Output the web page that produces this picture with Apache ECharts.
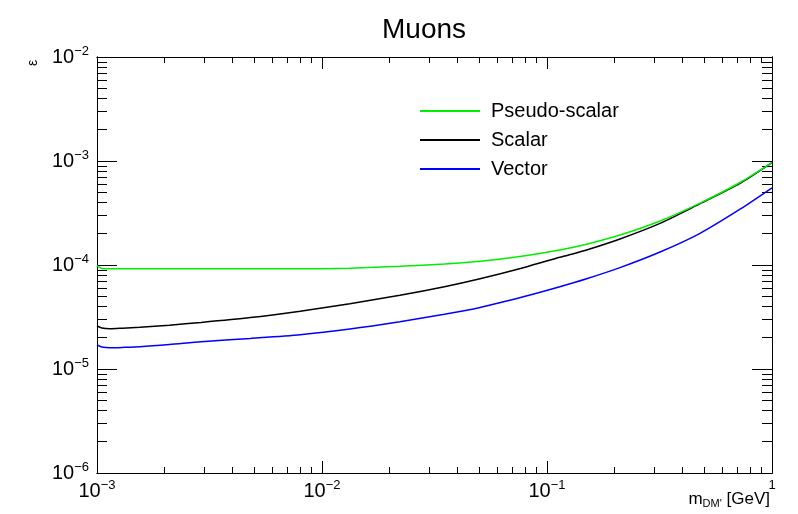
<!DOCTYPE html>
<html>
<head>
<meta charset="utf-8">
<script src="https://cdn.jsdelivr.net/npm/echarts@6/dist/echarts.min.js"></script>
<style>html,body{margin:0;padding:0;background:#fff}#c{width:798px;height:514px}</style>
</head>
<body>
<div id="c"></div>
<script>
var massGeV = [0.001, 0.00105, 0.00114, 0.0013, 0.00155, 0.0021, 0.0029, 0.0048, 0.008, 0.0133, 0.0222, 0.035, 0.0504, 0.08, 0.114, 0.15, 0.211, 0.318, 0.479, 0.721, 1.0];
var pseudoScalar = [9.85e-5, 9.25e-5, 9.18e-5, 9.18e-5, 9.18e-5, 9.18e-5, 9.18e-5, 9.18e-5, 9.18e-5, 9.33e-5, 9.73e-5, 1.023e-4, 1.084e-4, 1.23e-4, 1.396e-4, 1.585e-4, 1.94e-4, 2.65e-4, 3.94e-4, 6.21e-4, 9.64e-4];
var scalar = [2.59e-5, 2.48e-5, 2.44e-5, 2.47e-5, 2.52e-5, 2.64e-5, 2.80e-5, 3.12e-5, 3.60e-5, 4.24e-5, 5.12e-5, 6.19e-5, 7.38e-5, 9.53e-5, 1.186e-4, 1.396e-4, 1.778e-4, 2.51e-4, 3.89e-4, 6.10e-4, 9.64e-4];
var vector = [1.70e-5, 1.63e-5, 1.603e-5, 1.614e-5, 1.637e-5, 1.718e-5, 1.828e-5, 1.968e-5, 2.138e-5, 2.427e-5, 2.851e-5, 3.357e-5, 3.908e-5, 5.01e-5, 6.19e-5, 7.38e-5, 9.44e-5, 1.334e-4, 2.018e-4, 3.44e-4, 5.53e-4];
var xMajorTicks = [0.001, 0.01, 0.1, 1];
var xMinorTicks = [0.002,0.003,0.004,0.005,0.006,0.007,0.008,0.009,0.02,0.03,0.04,0.05,0.06,0.07,0.08,0.09,0.2,0.3,0.4,0.5,0.6,0.7,0.8,0.9];
var yMajorTicks = [1e-6, 1e-5, 1e-4, 1e-3, 1e-2];
var yMinorTicks = [2e-6,3e-6,4e-6,5e-6,6e-6,7e-6,8e-6,9e-6,2e-5,3e-5,4e-5,5e-5,6e-5,7e-5,8e-5,9e-5,2e-4,3e-4,4e-4,5e-4,6e-4,7e-4,8e-4,9e-4,2e-3,3e-3,4e-3,5e-3,6e-3,7e-3,8e-3,9e-3];
var seriesNames = ['Pseudo-scalar', 'Scalar', 'Vector'];

function pairs(ys){ return massGeV.map(function(x,i){ return [x, ys[i]]; }); }
var FONT = 'Liberation Sans, Arial, Helvetica, sans-serif';
function powLabel(v){
  var e = Math.round(Math.log(v)/Math.LN10);
  if (e === 0) return '{s|1}';
  return '{b|10}{s|' + (e < 0 ? '\u2212' + (-e) : e) + '}';
}
var rich = {
  b: {fontSize: 20, fontFamily: FONT, color: '#000'},
  s: {fontSize: 13, fontFamily: FONT, color: '#000', padding: [0, 0, 11, 0]}
};
var line = {show: true, onZero: false, lineStyle: {color: '#000', width: 1}};
function xAx(pos, ticks, len, labels){
  return {
    type: 'log', logBase: 10, min: 0.001, max: 1, position: pos, gridIndex: 0,
    axisLine: line, splitLine: {show: false},
    axisTick: {show: true, inside: true, length: len, customValues: ticks, lineStyle: {color: '#000', width: 1}},
    axisLabel: labels ? {show: true, customValues: xMajorTicks, formatter: powLabel, rich: rich, margin: 6} : {show: false},
    minorTick: {show: false}
  };
}
function yAx(pos, ticks, len, labels){
  return {
    type: 'log', logBase: 10, min: 1e-6, max: 1e-2, position: pos, gridIndex: 0,
    axisLine: line, splitLine: {show: false},
    axisTick: {show: true, inside: true, length: len, customValues: ticks, lineStyle: {color: '#000', width: 1}},
    axisLabel: labels ? {show: true, customValues: yMajorTicks, formatter: powLabel, rich: rich, margin: 8} : {show: false},
    minorTick: {show: false}
  };
}
var chart = echarts.init(document.getElementById('c'), null, {renderer: 'canvas'});
chart.setOption({
  animation: false,
  backgroundColor: '#fff',
  title: {text: 'Muons', left: 377, top: 11, textStyle: {fontSize: 28, fontWeight: 'normal', fontFamily: FONT, color: '#000'}},
  grid: {left: 97, right: 26, top: 57, bottom: 41, containLabel: false},
  legend: {
    orient: 'vertical', left: 420, top: 101, padding: 0, itemWidth: 60, itemHeight: 2, itemGap: 9, icon: 'rect',
    textStyle: {fontSize: 20, fontFamily: FONT, color: '#000', padding: [0, 0, 0, 6]},
    data: seriesNames
  },
  xAxis: [
    xAx('bottom', xMajorTicks, 12, true),
    xAx('bottom', xMinorTicks, 6, false),
    xAx('top', xMajorTicks, 12, false),
    xAx('top', xMinorTicks, 6, false)
  ],
  yAxis: [
    yAx('left', yMajorTicks, 20, true),
    yAx('left', yMinorTicks, 10, false),
    yAx('right', yMajorTicks, 20, false),
    yAx('right', yMinorTicks, 10, false)
  ],
  graphic: [
    {type: 'text', style: {text: 'ε', x: 33, y: 63, fontSize: 14, fontFamily: FONT, fill: '#000', align: 'center', verticalAlign: 'middle'}, rotation: Math.PI/2, originX: 33, originY: 63},
    {type: 'text', right: 28, top: 491, style: {text: '{m|m}{sub|DM\'}{m| [GeV]}', rich: {m: {fontSize: 17, fontFamily: FONT, fill: '#000'}, sub: {fontSize: 11, fontFamily: FONT, fill: '#000', padding: [9, 0, 0, 0]}}}}
  ],
  series: [
    {name: seriesNames[0], type: 'line', data: pairs(pseudoScalar), symbol: 'none', smooth: 0.25, color: '#00ee00', lineStyle: {width: 1.5, color: '#00ee00'}, z: 3},
    {name: seriesNames[1], type: 'line', data: pairs(scalar), symbol: 'none', smooth: 0.25, color: '#000000', lineStyle: {width: 1.5, color: '#000000'}, z: 2},
    {name: seriesNames[2], type: 'line', data: pairs(vector), symbol: 'none', smooth: 0.25, color: '#0000ff', lineStyle: {width: 1.5, color: '#0000ff'}, z: 2}
  ]
});
</script>
</body>
</html>
